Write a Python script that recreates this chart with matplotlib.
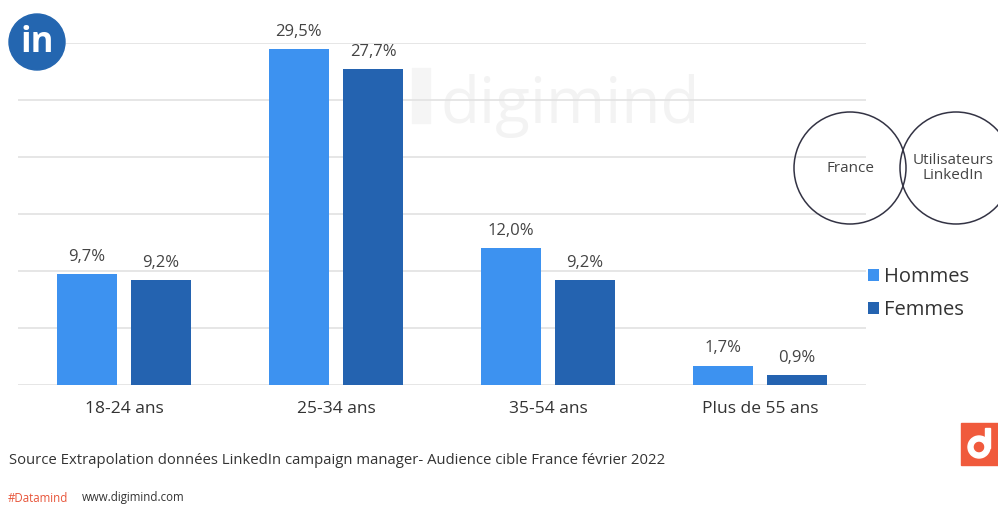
import matplotlib.pyplot as plt
from matplotlib.patches import Circle, Rectangle, Wedge

plt.rcParams['font.family'] = ['Open Sans', 'DejaVu Sans']

# data
categories = ["18-24 ans", "25-34 ans", "35-54 ans", "Plus de 55 ans"]
hommes = [9.7, 29.5, 12.0, 1.7]
femmes = [9.2, 27.7, 9.2, 0.9]
series_names = ["Hommes", "Femmes"]
colors = ["#3d92f0", "#2463b0"]

fig = plt.figure(figsize=(9.98, 5.05), dpi=100)

# background overlay in pixel coordinates (watermark)
bg = fig.add_axes([0, 0, 1, 1])
bg.set_xlim(0, 998)
bg.set_ylim(505, 0)
bg.axis("off")
bg.text(570, 106, "digimind", fontsize=46, color="#f3f3f3", ha="center", va="center", zorder=0)
bg.add_patch(Rectangle((412, 68), 18, 55, color="#f5f5f5", zorder=0))

ax = fig.add_axes([18 / 998, 120 / 505, 848 / 998, 342 / 505])
ax.set_facecolor("none")

x = list(range(len(categories)))
w = 0.283
off = 0.175
b1 = ax.bar([i - off for i in x], hommes, w, color=colors[0], label=series_names[0], zorder=3)
b2 = ax.bar([i + off for i in x], femmes, w, color=colors[1], label=series_names[1], zorder=3)

for bars, vals in ((b1, hommes), (b2, femmes)):
    for r, v in zip(bars, vals):
        ax.text(r.get_x() + r.get_width() / 2, v + 0.8, f"{v:.1f}%".replace(".", ","),
                ha="center", va="bottom", fontsize=12, color="#444444")

ax.set_xlim(-0.5, 3.5)
ax.set_ylim(0, 30)
ax.set_yticks(range(0, 31, 5))
ax.yaxis.grid(True, color="#e2e2e2", linewidth=1.2, zorder=0)
ax.set_axisbelow(True)
ax.tick_params(left=False, bottom=False, labelleft=False)
ax.set_xticks(x)
ax.set_xticklabels(categories, fontsize=12.5, color="#333333")
ax.tick_params(axis="x", pad=8)
for s in ax.spines.values():
    s.set_visible(False)

fig.legend(handles=[b1, b2], labels=series_names, loc="upper left",
           bbox_to_anchor=(850 / 998, 1 - 249 / 505), frameon=False, fontsize=14.5,
           handlelength=0.55, handleheight=0.55, handletextpad=0.25, labelspacing=0.65,
           labelcolor="#333333")

# overlay on top
top = fig.add_axes([0, 0, 1, 1])
top.set_xlim(0, 998)
top.set_ylim(505, 0)
top.axis("off")
top.set_facecolor("none")

# linkedin logo
top.add_patch(Circle((37, 42), 28, color="#2466b0"))
top.text(37, 43, "in", fontsize=25, fontweight="bold", color="white", ha="center", va="center")

# venn circles
top.add_patch(Circle((850, 168), 56, fill=False, edgecolor="#333344", linewidth=1.1))
top.add_patch(Circle((956, 168), 56, fill=False, edgecolor="#333344", linewidth=1.1))
top.text(851, 168, "France", fontsize=11, color="#444444", ha="center", va="center")
top.text(953, 168, "Utilisateurs\nLinkedIn", fontsize=11, color="#444444", ha="center", va="center",
         linespacing=1.05)

# digimind logo
top.add_patch(Rectangle((961, 423), 37, 42, color="#f05a3c"))
top.add_patch(Wedge((979, 447), 11, 0, 360, width=5, color="white"))
top.add_patch(Rectangle((985, 428), 5, 20, color="white"))

top.text(9, 461, "Source Extrapolation données LinkedIn campaign manager- Audience cible France février 2022",
         fontsize=10.7, color="#333333", ha="left", va="center")
top.text(8, 498, "#Datamind", fontsize=8.3, color="#e8553a", ha="left", va="center")
top.text(82, 498, "www.digimind.com", fontsize=8.3, color="#333333", ha="left", va="center")

fig.savefig("out.png", dpi=100)
